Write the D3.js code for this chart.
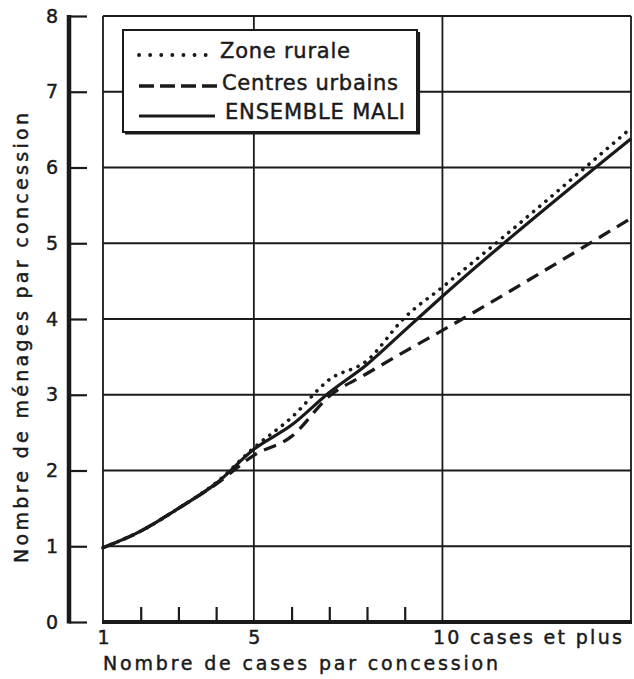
<!DOCTYPE html>
<html>
<head>
<meta charset="utf-8">
<script src="https://cdn.jsdelivr.net/npm/d3@7"></script>
<style>
  html, body { margin: 0; padding: 0; background: #fff; }
  svg { display: block; font-family: "DejaVu Sans", sans-serif; }
  text { fill: #1a1a1a; stroke: #1a1a1a; stroke-width: 0.45px; }
</style>
</head>
<body>
<svg id="chart" width="634" height="679"></svg>
<script>
// ---- data ----
const cases = [1, 2, 3, 4, 5, 6, 7, 8, 9, 10, 15];
const ensembleMali = [0.98, 1.20, 1.50, 1.83, 2.28, 2.60, 3.03, 3.40, 3.85, 4.30, 6.38];
const zoneRurale   = [0.98, 1.20, 1.50, 1.84, 2.30, 2.70, 3.20, 3.45, 4.02, 4.42, 6.52];
const centresUrb   = [0.98, 1.20, 1.50, 1.82, 2.20, 2.45, 2.98, 3.28, 3.57, 3.85, 5.33];
const yTicks = [0, 1, 2, 3, 4, 5, 6, 7, 8];
const xMinorTicks = [2, 3, 4, 6, 7, 8, 9];
const xGridTicks = [1, 5, 10, 15];
const xLabelValues = [1, 5, 10];
const xLabels = ["1", "5", "10 cases et plus"];
const legendLabels = ["Zone rurale", "Centres urbains", "ENSEMBLE MALI"];
const yTitle = "Nombre de ménages par concession";
const xTitle = "Nombre de cases  par concession";

const ink = "#1a1a1a";
const svg = d3.select("#chart");

const x = d3.scaleLinear().domain([1, 15]).range([103, 631]);
const y = d3.scaleLinear().domain([0, 8]).range([622, 16]);

// ---- grid ----
const grid = svg.append("g").attr("stroke", ink).attr("stroke-width", 1.8);
grid.selectAll("line.h").data(yTicks.filter(d => d > 0)).join("line")
  .attr("x1", x(1)).attr("x2", x(15))
  .attr("y1", d => y(d)).attr("y2", d => y(d));
grid.selectAll("line.v").data(xGridTicks).join("line")
  .attr("x1", d => x(d)).attr("x2", d => x(d))
  .attr("y1", y(8)).attr("y2", y(0));

// ---- y axis ----
const yAxis = d3.axisLeft(y).tickValues(yTicks).tickSize(18).tickPadding(11).tickFormat(d3.format("d"));
const gy = svg.append("g").attr("transform", "translate(87,0)").call(yAxis);
gy.select(".domain").remove();
gy.selectAll(".tick line").attr("stroke", ink).attr("stroke-width", 2.2);
gy.selectAll(".tick text").attr("font-size", 19).attr("fill", ink)
  .attr("font-family", "DejaVu Sans, sans-serif");
svg.append("line").attr("x1", 69).attr("x2", 69).attr("y1", y(8) - 1).attr("y2", y(0) + 1.5)
  .attr("stroke", ink).attr("stroke-width", 4.5);

// ---- x axis ----
const xAxis = d3.axisBottom(x).tickValues(xMinorTicks).tickSize(-15).tickFormat("");
const gx = svg.append("g").attr("transform", "translate(0,622)").call(xAxis);
gx.select(".domain").remove();
gx.selectAll(".tick line").attr("stroke", ink).attr("stroke-width", 2.2);
svg.append("line").attr("x1", x(1) - 1).attr("x2", x(15) + 1).attr("y1", 622).attr("y2", 622)
  .attr("stroke", ink).attr("stroke-width", 3.8);

const xLabAxis = d3.axisBottom(x).tickValues(xLabelValues).tickSize(0).tickPadding(9)
  .tickFormat((d, i) => xLabels[i]);
const gxl = svg.append("g").attr("transform", "translate(0,622)").call(xLabAxis);
gxl.select(".domain").remove();
gxl.selectAll(".tick text").attr("font-size", 19).attr("fill", ink)
  .attr("font-family", "DejaVu Sans, sans-serif");
gxl.selectAll(".tick text").filter((d, i) => i === 2)
  .attr("text-anchor", "start").attr("x", -10)
  .attr("textLength", 189).attr("lengthAdjust", "spacing");

// ---- titles ----
svg.append("text").attr("x", 103).attr("y", 670).attr("font-size", 19)
  .attr("textLength", 395).attr("lengthAdjust", "spacing").text(xTitle);
svg.append("text").attr("transform", "translate(28,338) rotate(-90)")
  .attr("text-anchor", "middle").attr("font-size", 19)
  .attr("textLength", 450).attr("lengthAdjust", "spacing").text(yTitle);

// ---- lines ----
const line = d3.line().x((d, i) => x(cases[i])).y(d => y(d)).curve(d3.curveMonotoneX);
const series = [
  { vals: zoneRurale, dash: "0.1,8", width: 3.6 },
  { vals: centresUrb, dash: "13,8", width: 3.3 },
  { vals: ensembleMali, dash: null, width: 3.2 }
];
svg.append("g").selectAll("path").data(series).join("path")
  .attr("d", d => line(d.vals))
  .attr("fill", "none").attr("stroke", ink)
  .attr("stroke-width", d => d.width)
  .attr("stroke-linecap", d => d.dash && d.dash.startsWith("0.1") ? "round" : "butt")
  .attr("stroke-dasharray", d => d.dash);

// ---- legend ----
const lg = svg.append("g");
lg.append("rect").attr("x", 123).attr("y", 30).attr("width", 294).attr("height", 102)
  .attr("fill", "#fff").attr("stroke", ink).attr("stroke-width", 2);
lg.append("path").attr("d", "M125,133 H418.5 V32")
  .attr("fill", "none").attr("stroke", ink).attr("stroke-width", 3.2);
const legY = [55, 86, 116];
const legTextY = [58, 90, 119];
const legTextX = [220, 222, 225];
const legLen = [130, 176, 180];
const legSeries = [
  { dash: "0.1,11", width: 3.8, x2: 208 },
  { dash: "15,6", width: 3.6, x2: 217 },
  { dash: null, width: 3.2, x2: 215 }
];
legSeries.forEach((s, i) => {
  lg.append("line").attr("x1", 139).attr("x2", s.x2).attr("y1", legY[i]).attr("y2", legY[i])
    .attr("stroke", ink).attr("stroke-width", s.width)
    .attr("stroke-linecap", i === 0 ? "round" : "butt")
    .attr("stroke-dasharray", s.dash);
  lg.append("text").attr("x", legTextX[i]).attr("y", legTextY[i]).attr("font-size", 21)
    .attr("textLength", legLen[i]).attr("lengthAdjust", "spacing").text(legendLabels[i]);
});
</script>
</body>
</html>
